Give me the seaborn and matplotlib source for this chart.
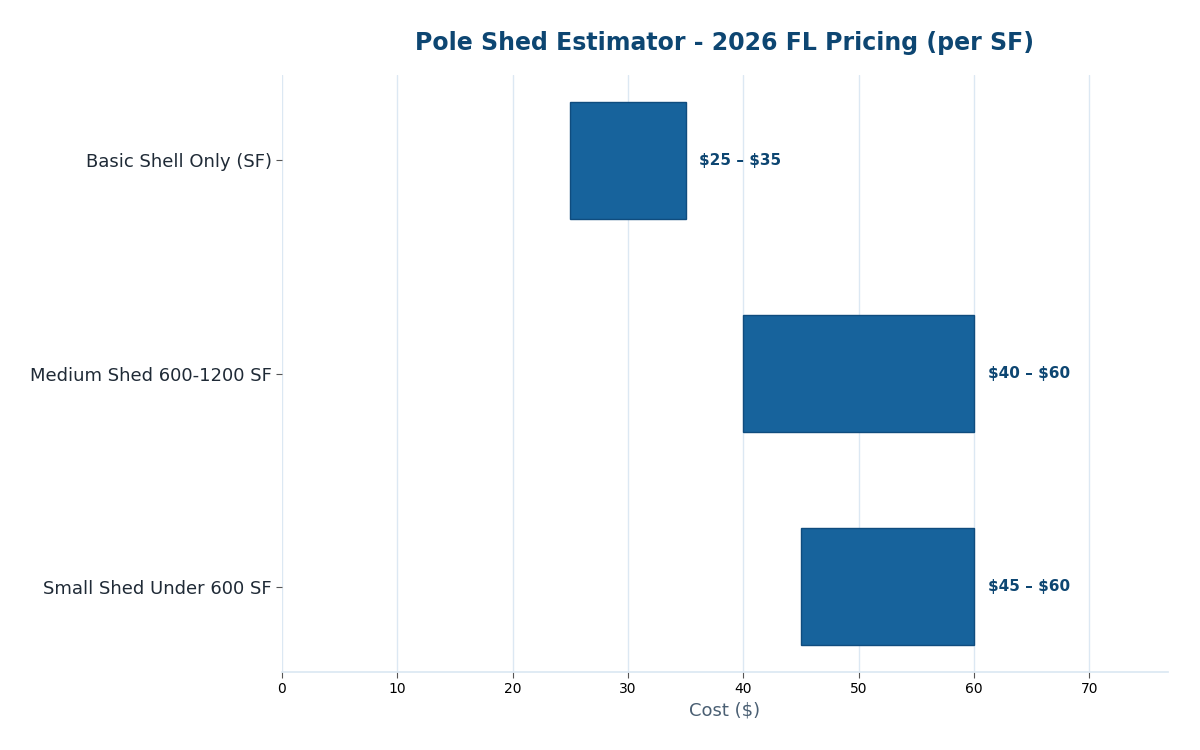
import matplotlib
matplotlib.use("Agg")
import matplotlib.pyplot as plt
import pandas as pd
import seaborn as sns

categories = ["Basic Shell Only (SF)", "Medium Shed 600-1200 SF", "Small Shed Under 600 SF"]
low_cost = [25, 40, 45]
high_cost = [35, 60, 60]

bar_color = "#17639c"
edge_color = "#0f4c7e"
title_color = "#0d4672"

sns.set_theme(style="white")
plt.rcParams['font.family'] = ['DejaVu Sans']

df = pd.DataFrame({"item": categories, "low": low_cost, "high": high_cost})

fig, ax = plt.subplots(figsize=(12, 7.5), dpi=100)
sns.barplot(data=df, y="item", x="high", color=bar_color, width=0.55,
            saturation=1, edgecolor=edge_color, linewidth=1, ax=ax, zorder=3)

# turn the full bars into floating low-high ranges
for patch, lo, hi in zip(ax.patches, df["low"], df["high"]):
    patch.set_x(lo)
    patch.set_width(hi - lo)

xmax = max(high_cost)
for i, (lo, hi) in enumerate(zip(low_cost, high_cost)):
    ax.text(hi + xmax * 0.02, i, f"\\${lo} \u2013 \\${hi}", va="center", ha="left",
            fontsize=11, fontweight="bold", color=title_color)

ax.set_xlim(0, xmax * 1.28)
ax.set_ylim(2.4, -0.4)
ax.xaxis.grid(True, color="#dce8f3", linewidth=1, zorder=0)
ax.set_axisbelow(True)
for s in ["top", "right", "left"]:
    ax.spines[s].set_visible(False)
ax.spines["bottom"].set_color("#dce8f3")

ax.tick_params(axis="x", bottom=True, length=4, width=0.8, color="#555555", labelsize=10, labelcolor="black")
ax.tick_params(axis="y", left=True, length=4, width=0.8, color="#555555", labelsize=13, labelcolor="#1f2a36")
ax.set_ylabel("")
ax.set_xlabel("Cost (\\$)", fontsize=13, color="#4a5f73")
ax.set_title("Pole Shed Estimator - 2026 FL Pricing (per SF)", fontsize=17,
             fontweight="bold", color=title_color, pad=18)

fig.subplots_adjust(left=0.235, right=0.973, top=0.9, bottom=0.104)
fig.savefig("out.png", dpi=100)
